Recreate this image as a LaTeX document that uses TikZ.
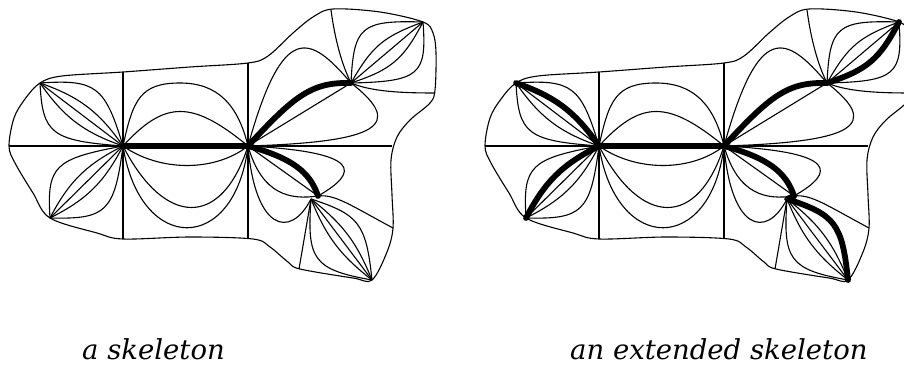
\documentclass[tikz,border=0pt]{standalone}
\usepackage{fontspec}
\setmainfont{DejaVu Serif}
\usetikzlibrary{calc}
\tikzset{
  rim/.style={line width=1.1pt,line join=round,draw=black},
  bone/.style={line width=5.8pt,line cap=round,line join=round,draw=black},
  caption/.style={font=\fontsize{27.5}{33}\selectfont\itshape,inner sep=0pt}
}

\begin{document}
\begin{tikzpicture}[x=1pt,y=-1pt]
  \path[use as bounding box] (0,0) rectangle (904,366);
  \clip (0,0) rectangle (904,366);

  \foreach \dx/\ext in {0/0,476/1}{
  \begin{scope}[xshift=\dx pt]
    % vertices of the skeleton
    \coordinate (hubA) at (123,146);
    \coordinate (hubB) at (248,146);
    \coordinate (tipNW) at (40,83);
    \coordinate (tipSW) at (50,218);
    \coordinate (knotN) at (351,83);
    \coordinate (tipNE) at (423,22);
    \coordinate (knotS) at (318,196);
    \coordinate (knotS2) at (311,199);
    \coordinate (tipSE) at (372,280);
    % ends of the cell borders on the rim
    \coordinate (w0) at (9,146);
    \coordinate (n1) at (123,72);
    \coordinate (s1) at (123,239);
    \coordinate (n2) at (248,63);
    \coordinate (s2) at (248,238);
    \coordinate (e0) at (392,146);
    \coordinate (n3) at (331,10);
    \coordinate (e1) at (435,93);
    \coordinate (e2) at (393,228);
    \coordinate (s3) at (299,269);

    \draw[rim] plot[smooth cycle,tension=0.55] coordinates {
      (9,146) (14,118) (25,99) (40,83) (62,76) (123,72) (190,67) (248,63)
      (268,56) (293,33) (313,17) (333,9) (380,12) (423,22) (433,33)
      (436,53) (435,90) (430,103) (410,120) (397,137) (391,160) (392,195)
      (393,228) (387,252) (372,280) (353,278) (300,269) (288,262)
      (270,247) (253,239) (190,237) (123,239) (97,233) (50,218) (33,193)
      (15,163)};

    % cell borders
    \draw[rim] (w0) -- (hubA);
    \draw[rim] (n1) -- (s1);
    \draw[rim] (n2) -- (s2);
    \draw[rim] (hubB) -- (e0);
    \draw[rim] (n3) .. controls (335,40) and (342,65) .. (knotN);
    \draw[rim] (knotN) .. controls (372,92) and (405,93) .. (e1);
    \draw[rim] (knotS) .. controls (335,194) and (350,205) .. (e2);
    \draw[rim] (knotS2) -- (s3);

    % fans at the tips
    \foreach \p/\q/\a/\f/\b/\g in {
        tipNW/hubA/41/0.54/-36/0.6, tipNW/hubA/18/0.4/-18/0.4,
        tipNW/hubA/0/0.3/0/0.3, tipNW/hubA/-18/0.4/18/0.4,
        tipNW/hubA/-50/0.49/33/0.69,
        tipSW/hubA/49/0.51/-34/0.68, tipSW/hubA/18/0.4/-18/0.4,
        tipSW/hubA/0/0.3/0/0.3, tipSW/hubA/-18/0.4/18/0.4,
        tipSW/hubA/-46/0.55/38/0.65,
        knotN/tipNE/47/0.6/-42/0.66, knotN/tipNE/20/0.45/-20/0.45,
        knotN/tipNE/0/0.3/0/0.3, knotN/tipNE/-22/0.45/22/0.45,
        knotN/tipNE/-39/0.73/54/0.56,
        knotS2/tipSE/35/0.5/-31/0.56, knotS2/tipSE/15/0.4/-15/0.4,
        knotS2/tipSE/0/0.3/0/0.3, knotS2/tipSE/-15/0.4/15/0.4,
        knotS2/tipSE/-41/0.6/43/0.59}
      \draw[rim] (\p) .. controls ($(\p)!\f!\a:(\q)$) and ($(\q)!\g!\b:(\p)$) .. (\q);

    % between the two hubs
    \draw[rim] (hubA) .. controls (133,100) and (140,83) .. (180,83)
      .. controls (218,83) and (238,105) .. (hubB);
    \draw[rim] (hubA) .. controls (165,100) and (192,100) .. (hubB);
    \draw[rim] (hubA) .. controls (160,172) and (215,172) .. (hubB);
    \draw[rim] (hubA) .. controls (165,228) and (222,228) .. (hubB);
    \draw[rim] (hubA) .. controls (140,255) and (235,255) .. (hubB);

    % from hubB to the knots
    \draw[rim] (hubB) .. controls (283,20) and (310,35) .. (knotN);
    \draw[rim] (hubB) -- (knotN);
    \draw[rim] (hubB) .. controls (380,142) and (405,125) .. (knotN);
    \draw[rim] (hubB) .. controls (362,152) and (360,172) .. (knotS);
    \draw[rim] (hubB) -- (knotS);
    \draw[rim] (hubB) .. controls (262,195) and (290,200) .. (knotS);
    \draw[rim] (hubB) .. controls (255,230) and (290,240) .. (knotS2);

    % the skeleton
    \draw[bone] (hubA) -- (hubB);
    \draw[bone] (hubB) .. controls (295,95) and (312,82) .. (knotN);
    \draw[bone] (hubB) .. controls (292,158) and (310,172) .. (knotS);
    \ifnum\ext=1
      \draw[bone] (tipNW) .. controls ($(tipNW)!0.4!18:(hubA)$)
        and ($(hubA)!0.4!-18:(tipNW)$) .. (hubA);
      \draw[bone] (tipSW) .. controls ($(tipSW)!0.4!18:(hubA)$)
        and ($(hubA)!0.4!-18:(tipSW)$) .. (hubA);
      \draw[bone] (knotN) .. controls ($(knotN)!0.45!-22:(tipNE)$)
        and ($(tipNE)!0.45!22:(knotN)$) .. (tipNE);
      \draw[bone] (knotS) -- (knotS2) .. controls ($(knotS2)!0.5!35:(tipSE)$)
        and ($(tipSE)!0.56!-31:(knotS2)$) .. (tipSE);
    \fi
  \end{scope}}

  \node[caption,anchor=base east] (capL) at (225,359) {a skeleton};
  \node[caption,anchor=base west] (capR) at (570,359) {an extended skeleton};
\end{tikzpicture}
\end{document}
